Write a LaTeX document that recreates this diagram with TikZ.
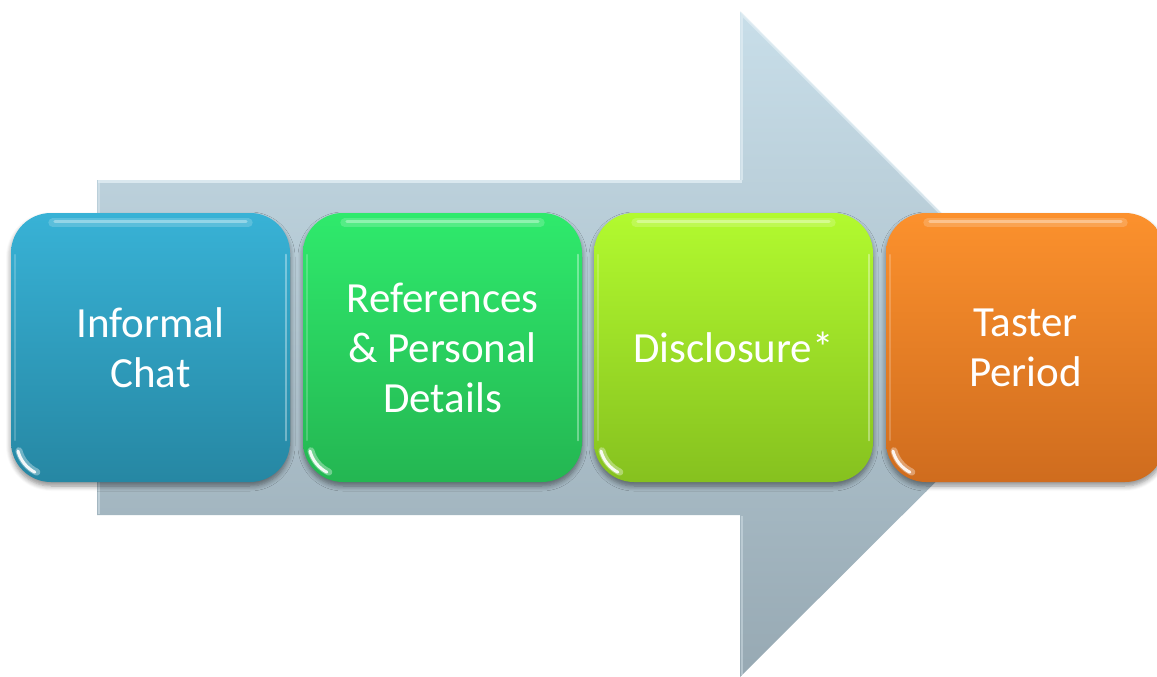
\documentclass[tikz,border=0pt]{standalone}
\usepackage{fontspec}
\setmainfont{Carlito}
\usetikzlibrary{calc,shadows.blur}

% palette
\definecolor{arrowTop}{HTML}{C8DEE9}
\definecolor{arrowBot}{HTML}{97A9B3}
\definecolor{arrowEdge}{HTML}{E2EEF4}
\definecolor{blueTop}{HTML}{38B2D6}
\definecolor{blueBot}{HTML}{2687A3}
\definecolor{greenTop}{HTML}{2FEA6C}
\definecolor{greenBot}{HTML}{24B652}
\definecolor{limeTop}{HTML}{B2FA2F}
\definecolor{limeBot}{HTML}{86C11F}
\definecolor{orangeTop}{HTML}{FC912D}
\definecolor{orangeBot}{HTML}{CF6C1E}

\begin{document}
\begin{tikzpicture}[x=1pt,y=-1pt,
  stepbox/.style={rounded corners=40pt, minimum width=279pt, minimum height=269pt,
    inner sep=0pt, align=center, text=white,
    font=\fontsize{43}{50}\selectfont,
    blur shadow={shadow xshift=0pt, shadow yshift=-4pt, shadow blur steps=6,
      shadow opacity=45, shadow blur radius=5pt}},
  gloss/.style={white, line cap=round, opacity=#1},
]
\useasboundingbox (0,0) rectangle (1157,677);
\clip (0,0) rectangle (1157,677);

% large background arrow
\shade[top color=arrowTop, bottom color=arrowBot]
  (97,180) -- (740,180) -- (740,12) -- (1073,345) -- (740,677) -- (740,515)
  -- (97,515) -- cycle;
% bevel light edges of the arrow
\draw[arrowEdge, line width=2.5pt, opacity=0.8]
  (98,181.5) -- (741.5,181.5);
\draw[arrowEdge, line width=2.5pt, opacity=0.7]
  (741.5,180) -- (741.5,14) -- (1070,343);
\draw[arrowEdge, line width=2pt, opacity=0.45]
  (98.5,181) -- (98.5,514);
\draw[arrowEdge, line width=2pt, opacity=0.4]
  (741.5,516) -- (741.5,675);

% process steps
\node[stepbox, top color=blueTop, bottom color=blueBot]
  (chat) at (150.5,347.5) {Informal\\Chat};
\node[stepbox, top color=greenTop, bottom color=greenBot]
  (refs) at (442.5,347.5) {References\\\& Personal\\Details};
\node[stepbox, top color=limeTop, bottom color=limeBot]
  (disc) at (733.5,347.5) {Disclosure*};
\node[stepbox, top color=orangeTop, bottom color=orangeBot]
  (taster) at (1025.5,347.5) {Taster\\Period};

% glossy highlights on each step
\foreach \n in {chat,refs,disc,taster}{
  \draw[gloss=0.18, line width=9pt]
    ([xshift=42pt,yshift=-10pt]\n.north west) -- ([xshift=-42pt,yshift=-10pt]\n.north east);
  \draw[gloss=0.35, line width=3pt]
    ([xshift=44pt,yshift=-9pt]\n.north west) -- ([xshift=-44pt,yshift=-9pt]\n.north east);
  \draw[gloss=0.35, line width=2.5pt]
    ([xshift=-4pt,yshift=-42pt]\n.north east) -- ([xshift=-4pt,yshift=42pt]\n.south east);
  \draw[gloss=0.2, line width=2pt]
    ([xshift=4pt,yshift=-42pt]\n.north west) -- ([xshift=4pt,yshift=42pt]\n.south west);
  \draw[gloss=0.35, line width=7pt]
    ($(\n.south west)+(40pt,40pt)+(195:33pt)$) arc[start angle=195, end angle=245, radius=33pt];
  \draw[gloss=0.9, line width=3pt]
    ($(\n.south west)+(40pt,40pt)+(195:34pt)$) arc[start angle=195, end angle=242, radius=34pt];
}
\end{tikzpicture}
\end{document}
